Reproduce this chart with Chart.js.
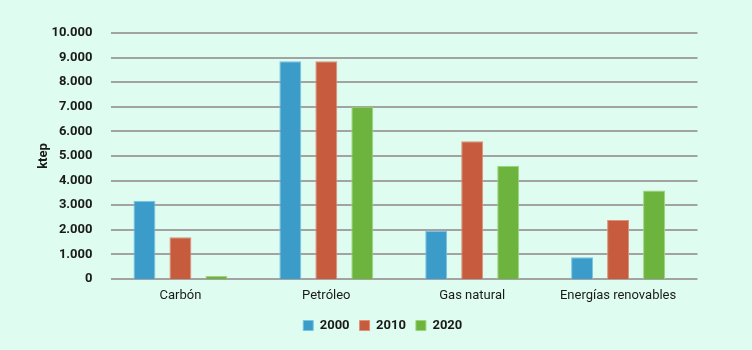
<!DOCTYPE html>
<html><head><meta charset="utf-8">
<script src="https://cdn.jsdelivr.net/npm/chart.js@4"></script>
<style>html,body{margin:0;padding:0;background:#defdf0;}#wrap{width:752px;height:350px;}</style>
</head><body><div id="wrap"><canvas id="c" width="752" height="350"></canvas></div>
<script>
const categories = ["Carbón", "Petróleo", "Gas natural", "Energías renovables"];
const seriesNames = ["2000", "2010", "2020"];
const values2000 = [3180, 8850, 1950, 880];
const values2010 = [1700, 8850, 5600, 2400];
const values2020 = [120, 7000, 4600, 3600];
const yTicks = [0, 1000, 2000, 3000, 4000, 5000, 6000, 7000, 8000, 9000, 10000];

function fmt(v){ return String(v).replace(/\B(?=(\d{3})+(?!\d))/g, "."); }

const fills = ["#3b9cca", "#c65b3d", "#6cb43e"];
const borders = ["#7cc2e2", "#e08f78", "#9fd47c"];
const allValues = [values2000, values2010, values2020];

// gridlines span slightly wider than the bar area, as in the reference
const gridPlugin = {
  id: "grid",
  afterLayout(chart) {
    if (chart.legend) { chart.legend.left += 23; chart.legend.right += 23; }
  },
  beforeDatasetsDraw(chart) {
    const y = chart.scales.y, ctx = chart.ctx, a = chart.chartArea;
    ctx.save();
    ctx.strokeStyle = "#a3a3a3";
    ctx.lineWidth = 2;
    yTicks.forEach(v => {
      const py = Math.round(y.getPixelForValue(v));
      ctx.beginPath();
      ctx.moveTo(a.left + 3.5, py);
      ctx.lineTo(a.right + 6.5, py);
      ctx.stroke();
    });
    ctx.restore();
  }
};

new Chart(document.getElementById("c"), {
  type: "bar",
  data: {
    labels: categories,
    datasets: seriesNames.map((n, i) => ({
      label: n, data: allValues[i], backgroundColor: fills[i], borderColor: borders[i],
      borderWidth: 1, barPercentage: 0.61, categoryPercentage: 0.74
    }))
  },
  options: {
    responsive: false, animation: false,
    layout: { padding: { left: 28.5, right: 61, top: 33, bottom: 8 } },
    plugins: {
      legend: { position: "bottom",
        labels: { boxWidth: 10, boxHeight: 10, padding: 10, color: "#1a1a1a",
          font: { family: "Roboto", size: 13, weight: "bold" } } },
      tooltip: { enabled: false }
    },
    scales: {
      x: {
        grid: { display: false },
        border: { display: false },
        ticks: { color: "#1a1a1a", padding: 1, font: { family: "Roboto", size: 13 } },
        afterFit: s => { s.height = 30; }
      },
      y: {
        min: 0, max: 10000,
        afterBuildTicks: s => { s.ticks = yTicks.map(v => ({ value: v })); },
        grid: { display: false, drawTicks: false },
        border: { display: false },
        ticks: { color: "#1a1a1a", padding: 15, font: { family: "Roboto", size: 13, weight: "bold" },
          callback: v => fmt(v) },
        title: { display: true, text: "ktep", color: "#1a1a1a", padding: { top: 7, bottom: 0 },
          font: { family: "Roboto", size: 13, weight: "bold" } },
        afterFit: s => { s.width = 79; }
      }
    }
  },
  plugins: [gridPlugin]
});
</script></body></html>
